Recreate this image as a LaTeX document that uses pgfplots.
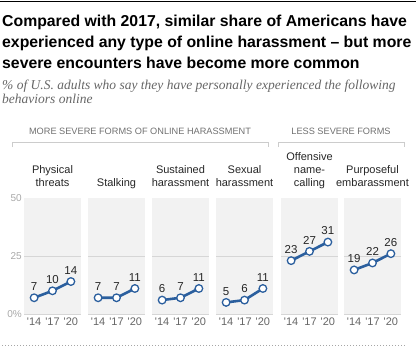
\documentclass[border=0pt]{standalone}
\usepackage{pgfplots}
\pgfplotsset{compat=1.18}
\usepackage{fontspec}
\setmainfont{Liberation Sans}
\newfontfamily\subfont{Liberation Serif}
\definecolor{panelbg}{HTML}{F2F2F2}
\definecolor{gridc}{HTML}{D6D6D6}
\definecolor{ytc}{HTML}{A8A8A8}
\definecolor{xtc}{HTML}{666666}
\definecolor{hdc}{HTML}{707070}
\definecolor{brc}{HTML}{CCCCCC}
\definecolor{subc}{HTML}{666666}
\definecolor{labc}{HTML}{262626}
\definecolor{bluec}{HTML}{2B5F9E}
\pgfplotsset{
  panel/.style={
    anchor=north west, width=57bp, height=116bp, scale only axis,
    xmin=-0.55, xmax=2.55, ymin=0, ymax=50,
    axis background/.style={fill=panelbg},
    axis line style={draw=none},
    xtick={0,1,2},
    xticklabels={\textquotesingle14,\textquotesingle17,\textquotesingle20},
    ytick={0,25}, yticklabels={},
    ymajorgrids, grid style={gridc, line width=0.9bp},
    major tick length=0pt, tick style={draw=none},
    xticklabel style={font=\fontsize{11bp}{13bp}\selectfont, text=xtc, inner sep=0pt, anchor=north, yshift=-4bp},
    yticklabel style={font=\fontsize{10bp}{12bp}\selectfont, text=ytc, inner sep=0pt, anchor=east, xshift=-2bp},
    clip=false,
    nodes near coords,
    every node near coord/.append style={font=\fontsize{11.5bp}{13bp}\selectfont, text=labc, anchor=south, inner sep=0pt, yshift=6.5bp},
    /pgf/number format/assume math mode=true,
  },
  ser/.style={draw=bluec, line width=2.6bp, mark=*, mark size=3.8bp, mark options={fill=white, draw=bluec, line width=1.3bp}},
}
\begin{document}
\begin{tikzpicture}[x=1bp,y=-1bp]
\path[use as bounding box] (0,0) rectangle (416,348);
\draw[line width=1.5bp] (0,1.5)--(416,1.5);
\begin{scope}[font=\fontsize{15.8bp}{21bp}\selectfont\bfseries]
\node[anchor=base west, inner sep=0] at (2,26) {Compared with 2017, similar share of Americans have};
\node[anchor=base west, inner sep=0] at (2,47) {experienced any type of online harassment – but more};
\node[anchor=base west, inner sep=0] at (2,68) {severe encounters have become more common};
\end{scope}
\begin{scope}[font=\fontsize{13.5bp}{15bp}\selectfont\subfont\itshape, text=subc]
\node[anchor=base west, inner sep=0] at (2,89) {\% of U.S. adults who say they have personally experienced the following};
\node[anchor=base west, inner sep=0] at (2,103) {behaviors online};
\end{scope}
\begin{scope}[font=\fontsize{9.2bp}{11bp}\selectfont, text=hdc]
\node[anchor=base, inner sep=0] at (140,134) {MORE SEVERE FORMS OF ONLINE HARASSMENT};
\node[anchor=base, inner sep=0] at (341,134) {LESS SEVERE FORMS};
\end{scope}
\draw[brc, line width=0.9bp] (12,147)--(12,142)--(268,142)--(268,147);
\draw[brc, line width=0.9bp] (278,147)--(278,142)--(404,142)--(404,147);
\begin{scope}[font=\fontsize{11bp}{13bp}\selectfont, text=labc]
\node[anchor=base, inner sep=0] at (52.5,173) {Physical};
\node[anchor=base, inner sep=0] at (52.5,186) {threats};
\node[anchor=base, inner sep=0] at (116.5,186) {Stalking};
\node[anchor=base, inner sep=0] at (180.5,173) {Sustained};
\node[anchor=base, inner sep=0] at (180.5,186) {harassment};
\node[anchor=base, inner sep=0] at (244.5,173) {Sexual};
\node[anchor=base, inner sep=0] at (244.5,186) {harassment};
\node[anchor=base, inner sep=0] at (309.5,160) {Offensive};
\node[anchor=base, inner sep=0] at (309.5,173) {name-};
\node[anchor=base, inner sep=0] at (309.5,186) {calling};
\node[anchor=base, inner sep=0] at (372.5,173) {Purposeful};
\node[anchor=base, inner sep=0] at (372.5,186) {embarassment};
\end{scope}
\begin{axis}[panel, at={(24bp,-198bp)}, yticklabels={0\%,25}, extra y ticks={50}, extra y tick labels={50}, extra y tick style={ymajorgrids=false}]
\addplot[ser] coordinates {(0,7) (1,10) (2,14)};
\end{axis}
\begin{axis}[panel, at={(88bp,-198bp)}]
\addplot[ser] coordinates {(0,7) (1,7) (2,11)};
\end{axis}
\begin{axis}[panel, at={(152bp,-198bp)}]
\addplot[ser] coordinates {(0,6) (1,7) (2,11)};
\end{axis}
\begin{axis}[panel, at={(216bp,-198bp)}]
\addplot[ser] coordinates {(0,5) (1,6) (2,11)};
\end{axis}
\begin{axis}[panel, at={(281bp,-198bp)}]
\addplot[ser] coordinates {(0,23) (1,27) (2,31)};
\end{axis}
\begin{axis}[panel, at={(344bp,-198bp)}]
\addplot[ser] coordinates {(0,19) (1,22) (2,26)};
\end{axis}
\draw[gray!70, line width=0.8bp, dash pattern=on 1bp off 2bp] (2,345)--(406,345);
\end{tikzpicture}
\end{document}
